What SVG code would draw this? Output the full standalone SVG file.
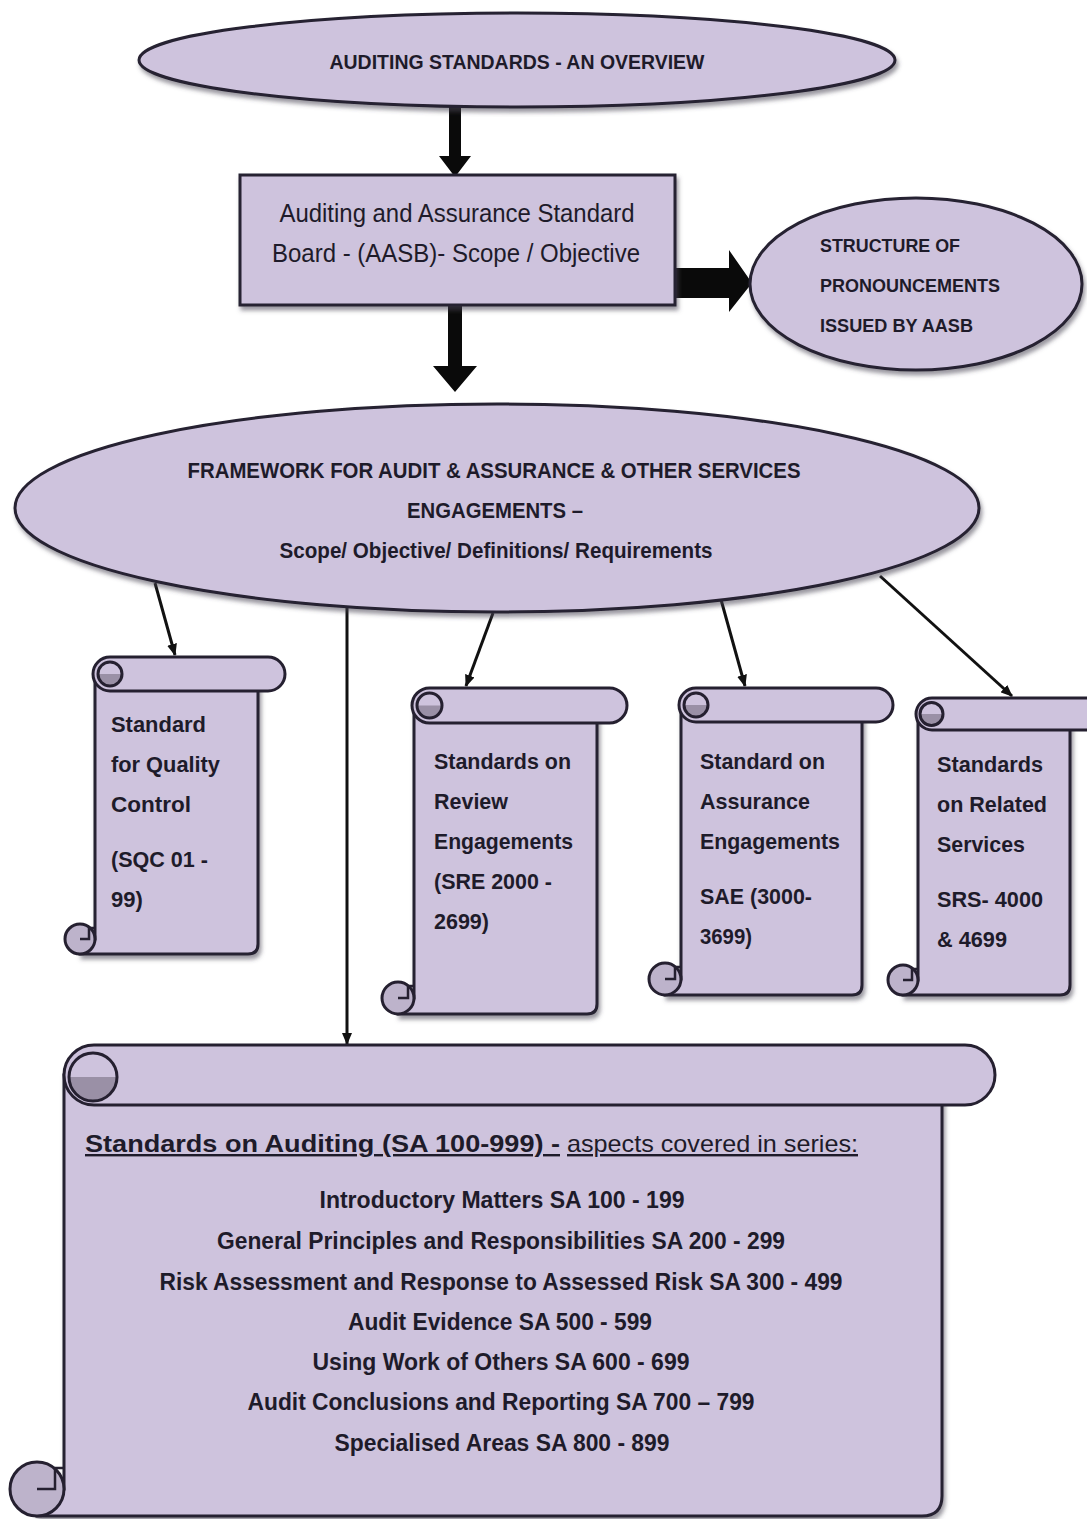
<svg xmlns="http://www.w3.org/2000/svg" width="1087" height="1519" viewBox="0 0 1087 1519">
<style>
.shape{fill:#cec3dd;stroke:#252030;stroke-width:3}
.curl{fill:#9a90a6;stroke:none}
.curlc{fill:none;stroke:#252030;stroke-width:3}
.bcurl{fill:#bdb3cb;stroke:#252030;stroke-width:3}
.hook{fill:none;stroke:#252030;stroke-width:2.5}
.t{font-family:"Liberation Sans",Arial,sans-serif;fill:#1e1b2a}
.b{font-weight:bold}
.st{font-family:"Liberation Sans",Arial,sans-serif;font-weight:bold;font-size:22px;fill:#1e1b2a}
.conn{stroke:#111;stroke-width:3;fill:none;marker-end:url(#ah)}
.block{fill:#0a0a0a}
</style>
<defs>
<marker id="ah" markerWidth="12" markerHeight="10" refX="11" refY="5" orient="auto" markerUnits="userSpaceOnUse">
<path d="M0,0 L12,5 L0,10 Z" fill="#111"/>
</marker>
<filter id="sh" x="-5%" y="-5%" width="112%" height="115%">
<feDropShadow dx="2" dy="4" stdDeviation="2" flood-color="#4a4452" flood-opacity="0.55"/>
</filter>
</defs>
<rect width="1087" height="1519" fill="#ffffff"/>

<g id="connectors">
<polygon class="block" points="449,107 461,107 461,156 471,156 455,177 439,156 449,156"/>
<polygon class="block" points="448,306 462,306 462,366 477,366 455,392 433,366 448,366"/>
<polygon class="block" points="676,268 729,268 729,250 752,283 729,312 729,298 676,298"/>
<line class="conn" x1="155" y1="583" x2="175" y2="655"/>
<line class="conn" x1="347" y1="607" x2="347" y2="1044"/>
<line class="conn" x1="493" y1="613" x2="466" y2="686"/>
<line class="conn" x1="720" y1="596" x2="745" y2="686"/>
<line class="conn" x1="880" y1="576" x2="1012" y2="696"/>
</g>

<g id="node-overview">
<ellipse class="shape" cx="517" cy="60" rx="378" ry="47" filter="url(#sh)"/>
<text class="t b" x="517" y="69" font-size="21" text-anchor="middle" textLength="375" lengthAdjust="spacingAndGlyphs">AUDITING STANDARDS - AN OVERVIEW</text>
</g>

<g id="node-aasb">
<rect class="shape" x="240" y="175" width="435" height="130" filter="url(#sh)"/>
<text class="t" x="457" y="222" font-size="25" text-anchor="middle" textLength="355" lengthAdjust="spacingAndGlyphs">Auditing and Assurance Standard</text>
<text class="t" x="456" y="262" font-size="25" text-anchor="middle" textLength="368" lengthAdjust="spacingAndGlyphs">Board - (AASB)- Scope / Objective</text>
</g>

<g id="node-structure">
<ellipse class="shape" cx="916" cy="284" rx="166" ry="86" filter="url(#sh)"/>
<text class="t b" x="820" y="252" font-size="19" textLength="140" lengthAdjust="spacingAndGlyphs">STRUCTURE OF</text>
<text class="t b" x="820" y="292" font-size="19" textLength="180" lengthAdjust="spacingAndGlyphs">PRONOUNCEMENTS</text>
<text class="t b" x="820" y="332" font-size="19" textLength="153" lengthAdjust="spacingAndGlyphs">ISSUED BY AASB</text>
</g>

<g id="node-framework">
<ellipse class="shape" cx="497" cy="508" rx="482" ry="104" filter="url(#sh)"/>
<text class="t b" x="494" y="478" font-size="22" text-anchor="middle" textLength="613" lengthAdjust="spacingAndGlyphs">FRAMEWORK FOR AUDIT &amp; ASSURANCE &amp; OTHER SERVICES</text>
<text class="t b" x="495" y="518" font-size="22" text-anchor="middle" textLength="176" lengthAdjust="spacingAndGlyphs">ENGAGEMENTS –</text>
<text class="t b" x="496" y="558" font-size="22" text-anchor="middle" textLength="433" lengthAdjust="spacingAndGlyphs">Scope/ Objective/ Definitions/ Requirements</text>
</g>

<g id="node-sqc">
<path class="shape" filter="url(#sh)" d="M95,674 H258 V944 Q258,954 248,954 H80 A15 15 0 0 1 95,939 Z"/>
<rect class="shape" x="93" y="657" width="192" height="34" rx="17"/>
<path class="curl" d="M98,674 A12 12 0 0 0 122,674 Z"/>
<circle class="curlc" cx="110" cy="674" r="12"/>
<circle class="bcurl" cx="80" cy="939" r="15"/>
<path class="hook" d="M95,928 H89 V939 H80"/>
<text class="st" x="111" y="732" textLength="95" lengthAdjust="spacingAndGlyphs">Standard</text>
<text class="st" x="111" y="772" textLength="109" lengthAdjust="spacingAndGlyphs">for Quality</text>
<text class="st" x="111" y="812" textLength="80" lengthAdjust="spacingAndGlyphs">Control</text>
<text class="st" x="111" y="867" textLength="97" lengthAdjust="spacingAndGlyphs">(SQC 01 -</text>
<text class="st" x="111" y="907">99)</text>
</g>

<g id="node-sre">
<path class="shape" filter="url(#sh)" d="M414,705 H597 V1004 Q597,1014 587,1014 H398 A16 16 0 0 1 414,998 Z"/>
<rect class="shape" x="412" y="688" width="215" height="35" rx="17.5"/>
<path class="curl" d="M417,705.5 A12.5 12.5 0 0 0 442,705.5 Z"/>
<circle class="curlc" cx="429.5" cy="705.5" r="12.5"/>
<circle class="bcurl" cx="398" cy="998" r="16"/>
<path class="hook" d="M414,986 H408 V998 H398"/>
<text class="st" x="434" y="769" textLength="137" lengthAdjust="spacingAndGlyphs">Standards on</text>
<text class="st" x="434" y="809" textLength="74" lengthAdjust="spacingAndGlyphs">Review</text>
<text class="st" x="434" y="849" textLength="139" lengthAdjust="spacingAndGlyphs">Engagements</text>
<text class="st" x="434" y="889" textLength="118" lengthAdjust="spacingAndGlyphs">(SRE 2000 -</text>
<text class="st" x="434" y="929" textLength="55" lengthAdjust="spacingAndGlyphs">2699)</text>
</g>

<g id="node-sae">
<path class="shape" filter="url(#sh)" d="M681,705 H862 V985 Q862,995 852,995 H665 A16 16 0 0 1 681,979 Z"/>
<rect class="shape" x="679" y="688" width="214" height="34" rx="17"/>
<path class="curl" d="M684,705 A12 12 0 0 0 708,705 Z"/>
<circle class="curlc" cx="696" cy="705" r="12"/>
<circle class="bcurl" cx="665" cy="979" r="16"/>
<path class="hook" d="M681,967 H675 V979 H665"/>
<text class="st" x="700" y="769" textLength="125" lengthAdjust="spacingAndGlyphs">Standard on</text>
<text class="st" x="700" y="809" textLength="110" lengthAdjust="spacingAndGlyphs">Assurance</text>
<text class="st" x="700" y="849" textLength="140" lengthAdjust="spacingAndGlyphs">Engagements</text>
<text class="st" x="700" y="904" textLength="112" lengthAdjust="spacingAndGlyphs">SAE (3000-</text>
<text class="st" x="700" y="944" textLength="52" lengthAdjust="spacingAndGlyphs">3699)</text>
</g>

<g id="node-srs">
<path class="shape" filter="url(#sh)" d="M918,714 H1070 V985 Q1070,995 1060,995 H903 A15 15 0 0 1 918,980 Z"/>
<rect class="shape" x="916" y="698" width="190" height="32" rx="16"/>
<path class="curl" d="M920,714 A11.5 11.5 0 0 0 943,714 Z"/>
<circle class="curlc" cx="931.5" cy="714" r="11.5"/>
<circle class="bcurl" cx="903" cy="980" r="15"/>
<path class="hook" d="M918,969 H912 V980 H903"/>
<text class="st" x="937" y="772" textLength="106" lengthAdjust="spacingAndGlyphs">Standards</text>
<text class="st" x="937" y="812" textLength="110" lengthAdjust="spacingAndGlyphs">on Related</text>
<text class="st" x="937" y="852" textLength="88" lengthAdjust="spacingAndGlyphs">Services</text>
<text class="st" x="937" y="907" textLength="106" lengthAdjust="spacingAndGlyphs">SRS- 4000</text>
<text class="st" x="937" y="947" textLength="70" lengthAdjust="spacingAndGlyphs">&amp; 4699</text>
</g>

<g id="node-sa">
<path class="shape" filter="url(#sh)" d="M64,1075 H942 V1496 Q942,1516 922,1516 H37 A27 27 0 0 1 64,1489 Z"/>
<rect class="shape" x="64" y="1045" width="931" height="60" rx="30"/>
<path class="curl" d="M69,1077 A24 24 0 0 0 117,1077 Z"/>
<circle class="curlc" cx="93" cy="1077" r="24"/>
<circle class="bcurl" cx="37" cy="1489" r="27"/>
<path class="hook" d="M64,1468 H55 V1489 H37"/>
<text class="t b" x="85" y="1152" font-size="24" text-decoration="underline" textLength="475" lengthAdjust="spacingAndGlyphs">Standards on Auditing (SA 100-999) -</text>
<text class="t" x="567" y="1152" font-size="24" text-decoration="underline" textLength="291" lengthAdjust="spacingAndGlyphs">aspects covered in series:</text>
<text class="t b" x="502" y="1208" font-size="23" text-anchor="middle" textLength="365" lengthAdjust="spacingAndGlyphs">Introductory Matters SA 100 - 199</text>
<text class="t b" x="501" y="1249" font-size="23" text-anchor="middle" textLength="568" lengthAdjust="spacingAndGlyphs">General Principles and Responsibilities SA 200 - 299</text>
<text class="t b" x="501" y="1290" font-size="23" text-anchor="middle" textLength="683" lengthAdjust="spacingAndGlyphs">Risk Assessment and Response to Assessed Risk SA 300 - 499</text>
<text class="t b" x="500" y="1330" font-size="23" text-anchor="middle" textLength="304" lengthAdjust="spacingAndGlyphs">Audit Evidence SA 500 - 599</text>
<text class="t b" x="501" y="1370" font-size="23" text-anchor="middle" textLength="377" lengthAdjust="spacingAndGlyphs">Using Work of Others SA 600 - 699</text>
<text class="t b" x="501" y="1410" font-size="23" text-anchor="middle" textLength="507" lengthAdjust="spacingAndGlyphs">Audit Conclusions and Reporting SA 700 – 799</text>
<text class="t b" x="502" y="1451" font-size="23" text-anchor="middle" textLength="335" lengthAdjust="spacingAndGlyphs">Specialised Areas SA 800 - 899</text>
</g>
</svg>
